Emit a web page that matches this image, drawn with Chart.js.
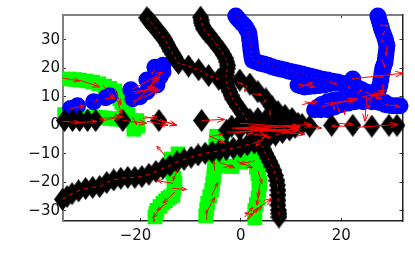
<!DOCTYPE html>
<html>
<head>
<meta charset="utf-8">
<style>
  body { margin: 0; background: #fff; }
  canvas { display: block; }
</style>
<script src="https://cdn.jsdelivr.net/npm/chart.js@4"></script>
</head>
<body>
<canvas id="chart" width="415" height="280"></canvas>
<script>
// axis limits
const xLimits = [-35.4, 32.2];
const yLimits = [-33.6, 38.75];

// green squares
const greenTopX = [-34.1, -33.1, -32.1, -30.8, -29.5, -28.3, -27.1, -26.1, -25.1, -24.6, -24.1, -23.7, -23.3, -22.9, -22.5];
const greenTopY = [16.3, 16.1, 15.9, 15.6, 15.2, 14.6, 13.8, 13, 12.1, 10.7, 9.3, 8, 6.6, 5.2, 3.8];
const greenRowX = [-35.1, -33.8, -32.5, -30.7, -29.4, -28.1, -27.1, -26.1, -24.9, -23.7, -22.2, -20.7, -20.6, -20.5, -21.3];
const greenRowY = [3.8, 3.8, 3.8, 3.1, 3, 2.8, 2.6, 2.4, 2.2, 2.1, 1.9, 1.7, 0.7, -0.3, -1.4];
const greenLeftX = [-17.1, -16.9, -16.7, -16.1, -15.5, -15, -14.5, -14, -13.5, -13.3, -13.1, -13.3, -13.5, -13.6, -13.7, -13.8, -13.9, -12.5];
const greenLeftY = [-32.2, -31, -29.8, -28.5, -27.3, -26.5, -25.6, -25.1, -24.6, -22.5, -20.4, -18.6, -16.9, -15.5, -14.2, -13, -11.8, -10];
const greenMidX = [-7, -6.8, -6.6, -6.2, -5.8, -5.6, -5.4, -5.3, -5.2, -5.1, -5, -5, -4.9, -4.8, -3.8, -3.8, -2.8, -1.8];
const greenMidY = [-31.8, -29.5, -27.3, -25, -22.8, -20.5, -18.3, -16.2, -14.2, -12.4, -10.7, -7.3, -5.5, -3.8, -4.5, -14.2, -14.3, -14.5];
const greenRightX = [2.8, 2.8, 2.8, 3.1, 3.4, 3.6, 3.8, 3.6, 3.4, 3.1, 2.8, 2.2, 1.5, 0.8, 0];
const greenRightY = [-32.5, -31.2, -29.8, -27.7, -25.6, -23, -20.4, -18.7, -17, -14.7, -12.5, -10.7, -11.6, -12.5, -13];

// blue circles
const blueTopX = [-1, -0.6, -0.2, 0.3, 0.8, 1.2, 1.6, 1.7, 1.8, 1.9, 2, 2.1, 2.2, 2.3, 2.4, 3.1, 3.8, 4.6, 5.4, 6.2, 7, 7.9, 8.8, 9.6, 10.4, 11.3, 12.2, 13, 13.7, 14.5, 15.3, 16.3, 17.3, 18.3, 19.3];
const blueTopY = [38.4, 37.5, 36.7, 35.8, 34.9, 33.7, 32.5, 31.2, 29.8, 28.2, 26.6, 25.4, 24.2, 23.5, 22.8, 22.3, 21.8, 21.5, 21.1, 20.6, 20.1, 19.8, 19.4, 19, 18.7, 18.4, 18, 17.6, 17.3, 17, 16.6, 16.2, 15.9, 15.5, 15.2];
const blueLoopX = [22.3, 20.3, 21.3, 22, 22.7, 23.4, 24.1, 25.2, 26.3, 11.4, 12, 12.7, 13.7, 14.7, 15.7, 16.7, 17.7, 18.7];
const blueLoopY = [16.3, 14.7, 14.2, 13.9, 13.5, 13, 12.5, 11.6, 10.7, 14.2, 13.8, 13.5, 13.6, 13.8, 14, 14.2, 14.6, 14.9];
const blueRightX = [27.3, 27.5, 27.7, 27.9, 28.1, 28.4, 28.7, 28.9, 29.1, 29, 28.9, 28.8, 28.7, 28.5, 28.3, 28.2, 28.1, 27.9, 27.7, 27.5, 27.3, 27, 26.7, 27.7, 28.7, 29.4, 30.1, 30.9, 31.7];
const blueRightY = [38.4, 37.2, 36, 34.8, 33.6, 32.2, 30.8, 29.4, 28, 26.5, 24.9, 23.5, 22.1, 21.1, 20.1, 19, 18, 16.1, 14.2, 13, 11.8, 10.5, 9.3, 8.3, 7.3, 7.1, 6.9, 6.9, 6.9];
const blueLowX = [14.7, 15.4, 16.1, 17.3, 18.3, 19.3, 20.7, 22.1, 23.1, 24.1, 15.9, 17.3, 18.7, 20.1, 21.4, 22.7, 24.4, 26.1, 27.4, 28.7];
const blueLowY = [5.5, 6.4, 7.3, 8.3, 8.7, 9, 9.8, 10.7, 11.2, 11.8, 5.5, 5.5, 6.4, 7.3, 7.8, 8.3, 8.3, 8.3, 8.1, 8];
const blueLeftX = [-33.9, -32.5, -29.3, -26.9, -26.1, -21.9, -21.5, -20.1, -18.7, -16.7, -18.7, -17.1, -15.5, -15.5, -16.1];
const blueLeftY = [5.9, 6.9, 8.3, 9.7, 10.4, 12.5, 9.3, 10, 11.8, 14.2, 15.9, 20.4, 21.1, 18.7, 17];

// black diamonds
const blackAX = [-18.7, -18.3, -17.9, -17.5, -17.1, -16.7, -16.3, -15.9, -15.5, -15.1, -14.8, -14.5, -14.2, -13.9, -13.5, -13.1, -12.8, -12.4, -10.4, -8.4, -6.4, -4.4];
const blackAY = [37.8, 37, 36.2, 35.4, 34.5, 33.6, 32.7, 31.8, 31, 30.1, 29, 28, 27, 26, 25, 23.9, 22.8, 21.8, 20.8, 19.5, 17.5, 16.2];
const blackBX = [-8, -7.9, -7.8, -7.6, -7.4, -6.9, -6.2, -5.6, -5, -4.4, -3.8, -3.4, -3, -2.8, -2.6, -2.7, -2.8, -2.9, -3, -2.9, -2.8, -2.5, -2.2, -1.9, -1.6, -1.1, -0.6, -0.1, 0.4, 0.9, 1.4];
const blackBY = [38, 37, 36, 35, 33.9, 32.7, 31.5, 30.1, 28.7, 27.3, 26, 24.7, 23.5, 22.3, 21.1, 19.9, 18.7, 17.5, 16.3, 15.2, 14.2, 13, 11.8, 10.5, 9.3, 8, 6.6, 5.4, 4.2, 2.8, 1.4];
const blackCX = [-0.2, 1.8, 3.4, 5, 6.2, 7.4, 8.8, 10.2];
const blackCY = [15.9, 14.5, 11.8, 9.3, 6.6, 4.8, 3.5, 2.4];
const blackMidX = [-1.8, -0.2, 1.8, 3.4, 5, 6.6, 8.2, 9.8, 11.4];
const blackMidY = [-0.3, 0.7, 2.1, 2.4, 2.1, 1.7, 1.4, 1.4, 0.7];
const blackRowX = [-35.1, -33.5, -32.1, -30.5, -28.9, -23.5, -16.3, -7.8, -2.8, -0.2, 1.8, 3.8, 5.8, 7.8, 9.8, 12.2, 13.7, 18.1, 22.3, 26.1, 29.5, 31.1];
const blackRowY = [1.7, 1.7, 1.7, 1.7, 1.7, 1.7, 1.7, 1.7, -1.7, -1.4, -0.7, -0.3, 0, 0, 0.3, 0.3, -0.3, 0, 0, -0.3, 0, 0];
const blackLowX = [-35.5, -34.6, -33.6, -32.3, -30.9, -29.5, -28.1, -26.7, -25.3, -23.9, -22.5, -21.1, -19.7, -18.3, -16.9, -15.5, -14.1, -12.7, -11.3, -9.9, -8.5, -7.1, -5.7, -4.3, -2.9, -1.5, -0.1, 1.3, 2.7, 4.1, 5.5, 6.9, 8.3, 9.7, 10.8];
const blackLowY = [-26, -25, -24, -23, -22.2, -21.8, -21.5, -20.1, -19.2, -18.6, -18.3, -18.3, -18, -17.2, -16.2, -15.1, -14.1, -12.8, -12, -11.2, -10.4, -9.8, -9.4, -8.9, -8.5, -8, -7.6, -6.8, -6.2, -5.2, -4.3, -3.4, -2.5, -1.6, -0.7];
const blackDownX = [3.4, 4.2, 4.6, 5, 5.4, 5.8, 6.2, 6.6, 6.9, 7.2, 7.3, 7.4, 7.4, 7.4, 7.4, 7.5, 7.6, 7.6];
const blackDownY = [-5, -7.3, -8.6, -10, -11.4, -12.8, -14.3, -15.9, -17.6, -19.4, -21, -22.8, -24.5, -26.3, -28, -29.8, -31, -32.2];

// red arrows, tail and tip
const arrowX0 = [-35.5, -32.1, -27.5, -33.9, -29.3, -27.1, -25.1, -24.5, -21.5, -21.7, -21.5, -17.1, -18.7, -35.5, -32.1, -28.1, -28.1, -23.5, -21.7, -19.1, -16.1, -18.7, -19.5, -7.8, -15.1, -13.5, -13.7, -12.5, -13.1, -15.5, -14.7, -17.3, -5.2, -5.8, -6.8, -6.8, -4.2, -3.6, -0.8, 2.8, 3.4, 3.8, 3.8, 2.4, 2.4, 1.2, 1.4, -2.8, -0.8, -1.6, 1.2, 4.2, 5.2, -0.8, 2.4, 1.2, 4.4, 5.8, -6.2, -1.8, -1.2, 1.4, -5.8, 13.3, 11.4, 19.3, 20.7, 23.1, 22.1, 26.7, 28.3, 16.1, 18.1, 19.1, 12.2, 12.7, 20.7, 25.1, 26.1, 25.7, 26.7, 28.7, 11.4, 11.8, 17.7, 21.3, 23.1, 27.7, 28.7, 29.1, 28.1, 28.3, 24.1, 24.7, 25.3, -0.2, 0.8, 2.8, 1.8, 16.7, -21.5, -21.1, 0.8, 1.8];
const arrowY0 = [16.6, 15.9, 14.2, 5.9, 8, 9.3, 12.8, 8.3, 7.3, 12.5, 11.8, 19.7, 12.5, 1.4, 1, 2.4, 1.4, 1.7, 3.1, 3.1, 2.1, 1.4, 2.4, 1.7, -10.7, -20.4, -22.1, -15.2, -23.5, -28, -27.3, -31.5, -15.9, -24.6, -30.4, -33.2, -13.1, -14.9, -12.5, -12.5, -15.9, -20.4, -22.8, -30.4, -31.5, -33.2, -33.2, -2.4, -1, -2.8, -3.8, -3.1, -3.1, 15.2, 11.1, 14.2, 7.6, 5.5, -3.8, -1, -1, -2.8, -3.8, -0.3, -2.1, 0.7, -0.3, -0.7, 16.3, 17.6, 14.5, 6.6, 8.3, 7.3, 7.3, 8.3, 5.5, 10, 10, 10.7, 10.7, 7.3, 14.5, 13.5, 15.2, 14.2, 11.1, 35.3, 33.2, 28, 23.2, 30.1, 10, 11.8, 9.3, 0.7, -1.4, -1.7, -0.3, 7.6, 8.3, 11.1, -32.2, -31.5];
const arrowX1 = [-32.1, -28.1, -25.1, -31.1, -28.5, -25.1, -23.9, -23.7, -16.1, -15.5, -16.5, -17.7, -16.7, -32.1, -28.7, -23.5, -23.7, -18.7, -20.7, -12.7, -12.9, -14.5, -16.7, -3.2, -16.7, -16.7, -10.8, -13.5, -15.5, -17.5, -16.7, -17.3, -5.4, -4.6, -5.2, -6.8, -1.2, -1.6, 2.4, -0.2, 4.2, 3.4, 3.2, 6.2, 0.8, 2.2, 3.4, 11.4, 11.2, 5.2, 2.4, 5.8, 3, 0.4, 4.2, 0.8, 5, 5.8, -3.2, 14.1, 12.7, 5.4, -3.6, 16.1, 12.7, 22.3, 18.1, 31.3, 32.3, 28.3, 28.1, 23.3, 18.7, 19.7, 15.3, 14.7, 20.7, 24.7, 25.3, 28.7, 27.3, 31.7, 14.7, 14.3, 19.1, 21.7, 24.1, 29.3, 28.3, 28.9, 28.7, 28.1, 27.7, 28.1, 28.7, 11.8, 11.8, 11.8, 9.8, 22.7, -16.1, -17.1, 2.4, 4.2];
const arrowY1 = [15.6, 13.5, 9.3, 6.9, 9, 9.7, 7.3, 3.8, 17, 18.7, 12.8, 18, 17, 1, 1.4, 3.1, 3.1, 0.7, 0.3, 0, 0, 0, 3.1, 2.1, -7.3, -19.4, -22.5, -19.4, -27.3, -32.5, -29.8, -33.9, -12.5, -20.1, -25.3, -29.8, -14.9, -14.2, -14.9, -13.5, -20.4, -25.3, -28, -25.6, -30.8, -30.8, -29.1, -1.4, -2.1, -1.4, -2.1, -4.5, -7.3, 14.5, 10.7, 11.8, 9, 3.8, -6.2, 0.3, -3.1, -3.8, -3.1, -1, -3.1, 0.3, -0.3, 0.3, 18.3, 17, 11.1, 9.3, 5.5, 4.8, 8.3, 7.6, 3.8, 1.4, 5.9, 11.1, 9.3, 6.6, 13.5, 14.9, 14.5, 12.8, 12.5, 34.9, 31.8, 24.6, 20.4, 29.1, 11.1, 9.3, 12.5, -0.7, -0.3, -1.4, -2.4, 9, 12.5, 13.5, -28.7, -28.7];

// tick labels
const xTickValues = [-20, 0, 20];
const yTickValues = [-30, -20, -10, 0, 10, 20, 30];

const pts = (xs, ys) => xs.map((x, i) => ({ x: x, y: ys[i] }));

// tall narrow diamond, the built in rectRot is too wide
const diamond = document.createElement('canvas');
diamond.width = 17;
diamond.height = 23;
const dctx = diamond.getContext('2d');
dctx.fillStyle = '#000';
dctx.beginPath();
dctx.moveTo(8.5, 0);
dctx.lineTo(17, 11.5);
dctx.lineTo(8.5, 23);
dctx.lineTo(0, 11.5);
dctx.closePath();
dctx.fill();

const markers = (xs, ys, style, radius, color) => ({
  data: pts(xs, ys),
  showLine: false,
  clip: false,
  pointStyle: style,
  pointRadius: radius,
  pointHoverRadius: radius,
  pointBackgroundColor: color,
  pointBorderWidth: 0
});

const dashes = (xs, ys, dash) => ({
  data: pts(xs, ys),
  showLine: true,
  clip: false,
  pointRadius: 0,
  borderColor: '#f00',
  borderWidth: 1,
  borderDash: dash
});

const arrows = {
  id: 'arrows',
  afterDatasetsDraw(chart) {
    const { ctx, scales } = chart;
    ctx.save();
    ctx.strokeStyle = '#f00';
    ctx.lineWidth = 1;
    arrowX0.forEach((v, i) => {
      const x0 = scales.x.getPixelForValue(v);
      const y0 = scales.y.getPixelForValue(arrowY0[i]);
      const x1 = scales.x.getPixelForValue(arrowX1[i]);
      const y1 = scales.y.getPixelForValue(arrowY1[i]);
      const a = Math.atan2(y1 - y0, x1 - x0);
      const h = Math.min(8, Math.hypot(x1 - x0, y1 - y0) * 0.35);
      ctx.beginPath();
      ctx.moveTo(x0, y0);
      ctx.lineTo(x1, y1);
      ctx.moveTo(x1 - h * Math.cos(a - 0.35), y1 - h * Math.sin(a - 0.35));
      ctx.lineTo(x1, y1);
      ctx.lineTo(x1 - h * Math.cos(a + 0.35), y1 - h * Math.sin(a + 0.35));
      ctx.stroke();
    });
    ctx.restore();
  }
};

const tickFont = { family: '"DejaVu Sans"', size: 15 };
const minus = v => String(v).replace('-', '\u2212');
// the -20 label sits left of its tick in the original
const minusX = v => (v < 0 ? minus(v) + '  ' : minus(v));

// chart.js paints the first dataset last, so top layer goes first here
new Chart(document.getElementById('chart'), {
  type: 'scatter',
  data: {
    datasets: [
      dashes(blackAX, blackAY, [3, 3]),
      dashes(blackBX, blackBY, [3, 3]),
      dashes(blackLowX, blackLowY, [4, 4]),
      dashes(blackDownX, blackDownY, [3, 4]),
      dashes(blueTopX, blueTopY, [1, 4]),
      markers(blackAX, blackAY, diamond, 8, '#000'),
      markers(blackBX, blackBY, diamond, 8, '#000'),
      markers(blackCX, blackCY, diamond, 8, '#000'),
      markers(blackMidX, blackMidY, diamond, 8, '#000'),
      markers(blackRowX, blackRowY, diamond, 8, '#000'),
      markers(blackLowX, blackLowY, diamond, 8, '#000'),
      markers(blackDownX, blackDownY, diamond, 8, '#000'),
      markers(blueTopX, blueTopY, 'circle', 8.5, '#0000ff'),
      markers(blueLoopX, blueLoopY, 'circle', 8.5, '#0000ff'),
      markers(blueRightX, blueRightY, 'circle', 8.5, '#0000ff'),
      markers(blueLowX, blueLowY, 'circle', 8.5, '#0000ff'),
      markers(blueLeftX, blueLeftY, 'circle', 8.5, '#0000ff'),
      markers(greenTopX, greenTopY, 'rect', 10.3, '#00ff00'),
      markers(greenRowX, greenRowY, 'rect', 10.3, '#00ff00'),
      markers(greenLeftX, greenLeftY, 'rect', 10.3, '#00ff00'),
      markers(greenMidX, greenMidY, 'rect', 10.3, '#00ff00'),
      markers(greenRightX, greenRightY, 'rect', 10.3, '#00ff00')
    ]
  },
  plugins: [arrows],
  options: {
    responsive: false,
    animation: false,
    layout: { padding: { right: 12.5 } },
    plugins: { legend: { display: false }, tooltip: { enabled: false } },
    scales: {
      x: {
        min: xLimits[0],
        max: xLimits[1],
        position: 'bottom',
        afterFit: s => { s.height = 59; },
        afterBuildTicks: s => { s.ticks = xTickValues.map(v => ({ value: v })); },
        grid: { drawOnChartArea: false, tickLength: -3, tickColor: '#333' },
        border: { color: '#222', width: 1.5 },
        ticks: { callback: minusX, font: tickFont, color: '#111', padding: 9, maxRotation: 0 }
      },
      y: {
        min: yLimits[0],
        max: yLimits[1],
        position: 'left',
        afterFit: s => { s.width = 63; },
        afterBuildTicks: s => { s.ticks = yTickValues.map(v => ({ value: v })); },
        grid: { drawOnChartArea: false, tickLength: -3, tickColor: '#333' },
        border: { color: '#808080', width: 2 },
        ticks: { callback: minus, font: tickFont, color: '#111', padding: 6 }
      },
      xTop: {
        type: 'linear',
        min: xLimits[0],
        max: xLimits[1],
        position: 'top',
        afterFit: s => { s.height = 12; },
        afterBuildTicks: s => { s.ticks = xTickValues.map(v => ({ value: v })); },
        grid: { drawOnChartArea: false, tickLength: -3, tickColor: '#333' },
        border: { color: '#808080', width: 2 },
        ticks: { display: false }
      },
      yRight: {
        type: 'linear',
        min: yLimits[0],
        max: yLimits[1],
        position: 'right',
        afterFit: s => { s.width = 0; },
        afterBuildTicks: s => { s.ticks = yTickValues.map(v => ({ value: v })); },
        grid: { drawOnChartArea: false, tickLength: -3, tickColor: '#333' },
        border: { color: '#222', width: 1.5 },
        ticks: { display: false }
      }
    }
  }
});
</script>
</body>
</html>
